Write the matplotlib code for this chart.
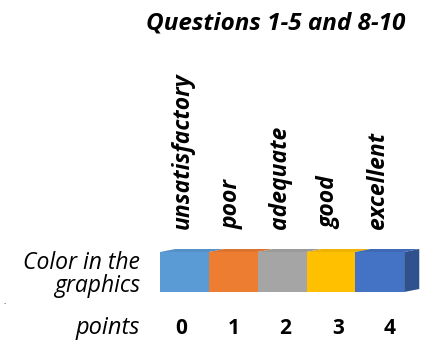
import matplotlib.pyplot as plt
from matplotlib.patches import Polygon

# Scale data
labels = ["unsatisfactory", "poor", "adequate", "good", "excellent"]
points = [0, 1, 2, 3, 4]
colors = ["#5B9BD5", "#ED7D31", "#A5A5A5", "#FFC000", "#4472C4"]
top_colors = ["#5590C8", "#DC7430", "#9A9A9A", "#EDB300", "#3F69B5"]
side_color = "#2F528F"
title = "Questions 1-5 and 8-10"

plt.rcParams['font.family'] = ['Open Sans', 'DejaVu Sans']

fig = plt.figure(figsize=(4.31, 3.40), dpi=100)
ax = fig.add_axes([0, 0, 1, 1])
ax.set_xlim(-3.78, 5.05)
ax.set_ylim(-1.2, 7.3)
ax.axis("off")

# Front faces
ax.bar(points, [1] * len(points), width=1.0, color=colors, edgecolor="none")

# 3D top and side faces
dx, dy = 0.31, 0.075
for p, c in zip(points, top_colors):
    ax.add_patch(Polygon([(p - 0.5, 1), (p + 0.5, 1), (p + 0.5 + dx, 1 + dy),
                          (p - 0.5 + dx, 1 + dy)], closed=True, color=c, lw=0))
last = points[-1] + 0.5
ax.add_patch(Polygon([(last, 0), (last + dx, dy), (last + dx, 1 + dy), (last, 1)],
                     closed=True, color=side_color, lw=0))

# Category labels and point numbers
for p, lab in zip(points, labels):
    ax.text(p - 0.04, 1.57, lab, rotation=90, ha="center", va="bottom",
            fontsize=16.5, fontweight="bold", style="italic")
    ax.text(p * 1.07 - 0.07, -0.9, str(p), ha="center", va="center",
            fontsize=15, fontweight="bold")

ax.text(-0.91, 0.43, "Color in the\ngraphics", ha="right", va="center",
        fontsize=16.5, style="italic", linespacing=0.95)
ax.text(-0.91, -0.9, "points", ha="right", va="center",
        fontsize=17, style="italic")
ax.text(-3.68, -0.25, ".", ha="center", va="center", fontsize=6)

ax.text(1.86, 6.72, title, ha="center", va="center",
        fontsize=17.5, fontweight="bold", style="italic")

fig.savefig("out.png", dpi=100)
